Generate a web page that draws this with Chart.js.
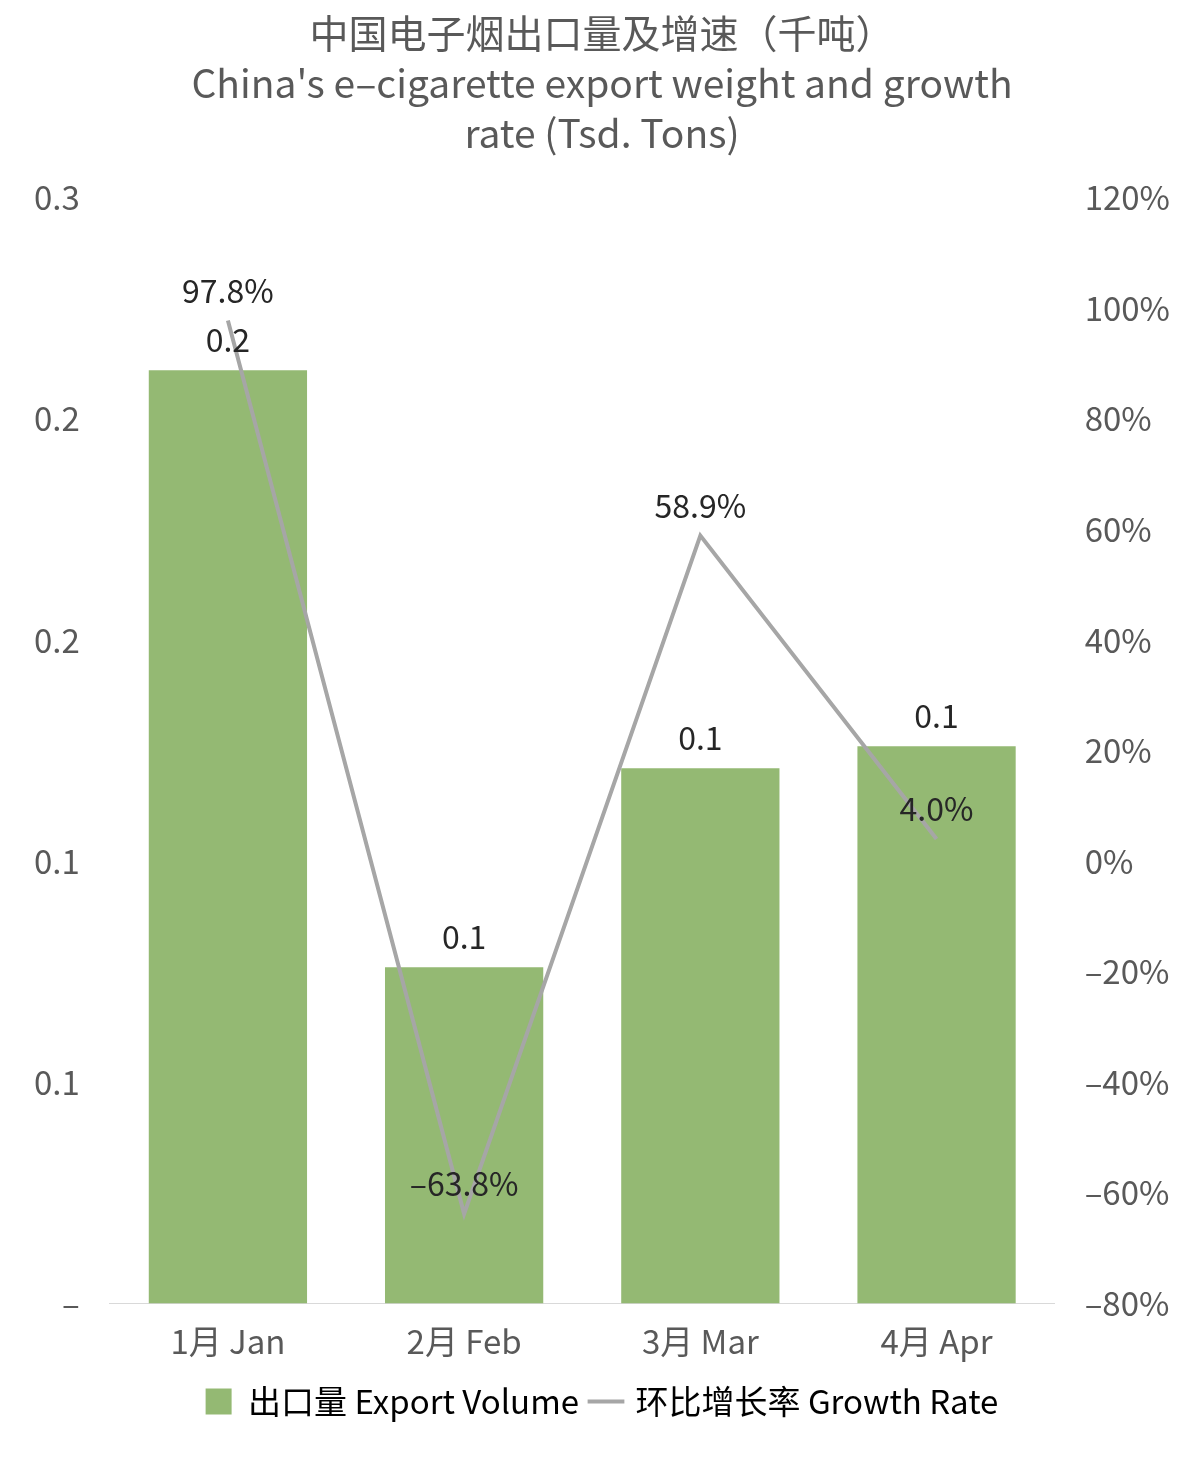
<!DOCTYPE html>
<html><head><meta charset="utf-8">
<script src="https://cdn.jsdelivr.net/npm/chart.js@4/dist/chart.umd.min.js"></script>
<style>html,body{margin:0;background:#fff}#w{width:1200px;height:1468px}</style>
</head><body><div id="w"><canvas id="c"></canvas></div>
<script>
const categories=['1月 Jan','2月 Feb','3月 Mar','4月 Apr'];
const exportVolume=[0.211,0.076,0.121,0.126];
const growthRate=[97.8,-63.8,58.9,4.0];
const leftTicks=[0,0.05,0.1,0.15,0.2,0.25];
const FONT='"Noto Sans CJK SC", "Noto Sans", sans-serif';
const fmtPct=v=>(v<0?'–'+Math.abs(v):String(v));
const labels={id:'labels',afterDatasetsDraw(ch){const c=ch.ctx;c.save();c.font='32px '+FONT;c.fillStyle='#262626';c.textAlign='center';c.textBaseline='bottom';
ch.getDatasetMeta(1).data.forEach((e,i)=>c.fillText(exportVolume[i].toFixed(1),e.x,e.y-14));
ch.getDatasetMeta(0).data.forEach((e,i)=>c.fillText(growthRate[i].toFixed(1).replace('-','–')+'%',e.x,e.y-14));
c.restore();}};
new Chart(document.getElementById('c'),{
data:{labels:categories,datasets:[
{type:'line',label:'环比增长率 Growth Rate',data:growthRate,yAxisID:'y1',borderColor:'#a6a6a6',backgroundColor:'#a6a6a6',borderWidth:4,pointRadius:0,tension:0},
{type:'bar',label:'出口量 Export Volume',data:exportVolume,yAxisID:'y',backgroundColor:'#94b973',categoryPercentage:0.67,barPercentage:1}]},
options:{responsive:true,maintainAspectRatio:false,animation:false,
layout:{padding:{left:12,right:8,top:0,bottom:40}},
plugins:{title:{display:true,text:['中国电子烟出口量及增速（千吨）',"China's e–cigarette export weight and growth","rate (Tsd. Tons)"],color:'#595959',font:{family:FONT,size:39,weight:'normal',lineHeight:1.28},padding:{top:8,bottom:40}},
legend:{position:'bottom',labels:{color:'#404040',font:{family:FONT,size:33},boxWidth:26,boxHeight:26,padding:14,usePointStyle:true,
generateLabels(ch){return [1,0].map(i=>{const d=ch.data.datasets[i];return {text:d.label,fillStyle:d.type==='bar'?'#94b973':'#a6a6a6',strokeStyle:d.type==='bar'?'#94b973':'#a6a6a6',lineWidth:d.type==='bar'?0:4,pointStyle:d.type==='bar'?'rect':'line',datasetIndex:i};});}}},
tooltip:{enabled:false}},
scales:{x:{grid:{display:false},border:{color:'#d9d9d9'},ticks:{color:'#595959',font:{family:FONT,size:33},padding:10}},
y:{position:'left',min:0,max:0.25,afterBuildTicks(a){a.ticks=leftTicks.map(v=>({value:v}));},grid:{display:false},border:{display:false},ticks:{color:'#595959',font:{family:FONT,size:33},padding:22,callback:v=>v===0?'–':(Math.round(v*10+1e-9)/10).toFixed(1)}},
y1:{position:'right',min:-80,max:120,grid:{display:false},border:{display:false},ticks:{stepSize:20,color:'#595959',font:{family:FONT,size:33},padding:22,callback:v=>fmtPct(v)+'%'}}}},
plugins:[labels]});
</script></body></html>
